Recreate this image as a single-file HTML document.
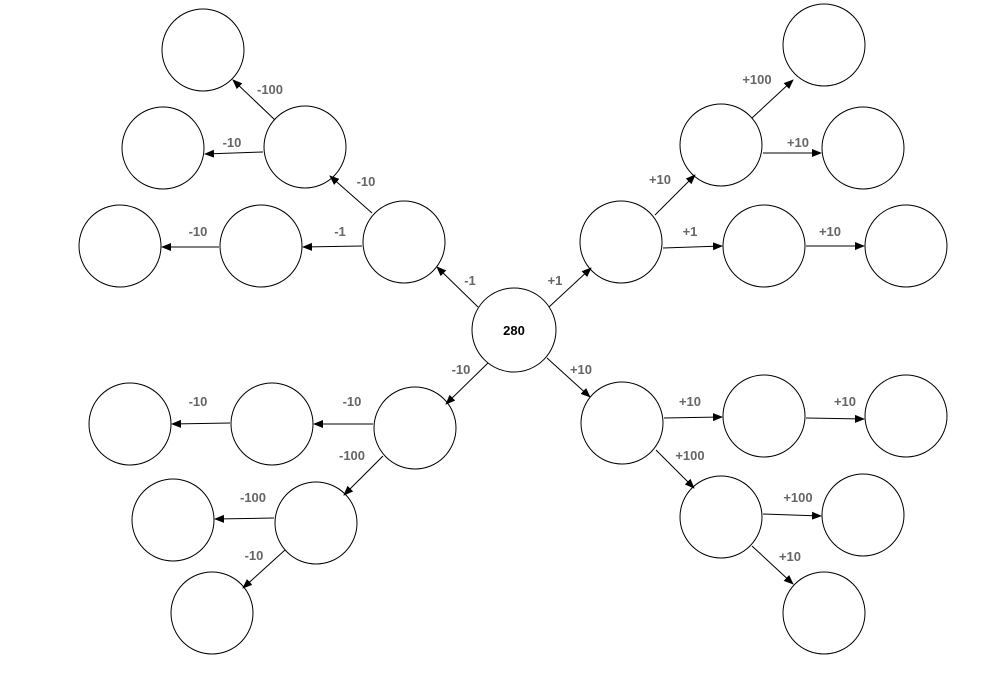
<!DOCTYPE html>
<html><head><style>body{margin:0;background:#fff}svg{display:block}</style></head><body>
<svg width="998" height="676" xmlns="http://www.w3.org/2000/svg">
<defs><marker id="a" markerWidth="10" markerHeight="8" refX="9" refY="4" orient="auto" markerUnits="userSpaceOnUse"><path d="M0,0 L10,4 L0,8 Z" fill="#000"/></marker></defs>
<g fill="#fff" stroke="#000" stroke-width="1">
<circle cx="514" cy="330" r="42"/>
<circle cx="203" cy="50" r="41"/><circle cx="163" cy="148" r="41"/><circle cx="305" cy="147" r="41"/>
<circle cx="404" cy="242" r="41"/><circle cx="261" cy="246" r="41"/><circle cx="120" cy="246" r="41"/>
<circle cx="824" cy="45" r="41"/><circle cx="721" cy="145" r="41"/><circle cx="863" cy="148" r="41"/>
<circle cx="621" cy="242" r="41"/><circle cx="764" cy="246" r="41"/><circle cx="906" cy="246" r="41"/>
<circle cx="415" cy="428" r="41"/><circle cx="272" cy="424" r="41"/><circle cx="130" cy="424" r="41"/>
<circle cx="316" cy="523" r="41"/><circle cx="173" cy="520" r="41"/><circle cx="212" cy="613" r="41"/>
<circle cx="622" cy="423" r="41"/><circle cx="764" cy="416" r="41"/><circle cx="906" cy="416" r="41"/>
<circle cx="721" cy="517" r="41"/><circle cx="863" cy="515" r="41"/><circle cx="824" cy="613" r="41"/>
</g>
<g stroke="#000" stroke-width="1" marker-end="url(#a)">
<line x1="478" y1="307" x2="437" y2="267"/>
<line x1="549" y1="307" x2="591" y2="268"/>
<line x1="488" y1="363" x2="446" y2="404"/>
<line x1="547" y1="358" x2="590" y2="397"/>
<line x1="372" y1="213" x2="330" y2="176"/>
<line x1="362" y1="246" x2="303" y2="247"/>
<line x1="219" y1="247" x2="162" y2="247"/>
<line x1="275" y1="120" x2="233" y2="80"/>
<line x1="263" y1="152" x2="205" y2="154"/>
<line x1="655" y1="215" x2="695" y2="175"/>
<line x1="663" y1="248" x2="722" y2="246"/>
<line x1="806" y1="246" x2="864" y2="246"/>
<line x1="752" y1="118" x2="793" y2="80"/>
<line x1="763" y1="153" x2="821" y2="153"/>
<line x1="373" y1="424" x2="314" y2="424"/>
<line x1="230" y1="423" x2="172" y2="424"/>
<line x1="383" y1="456" x2="344" y2="495"/>
<line x1="274" y1="518" x2="215" y2="519"/>
<line x1="285" y1="550" x2="243" y2="588"/>
<line x1="664" y1="418" x2="722" y2="417"/>
<line x1="806" y1="418" x2="864" y2="419"/>
<line x1="656" y1="450" x2="694" y2="488"/>
<line x1="763" y1="514" x2="821" y2="516"/>
<line x1="752" y1="546" x2="793" y2="584"/>
</g>
<g font-family="Liberation Sans, sans-serif" font-weight="bold" font-size="13" fill="#666" text-anchor="middle">
<text x="470" y="285">-1</text><text x="555" y="285">+1</text>
<text x="461" y="374">-10</text><text x="581" y="374">+10</text>
<text x="366" y="186">-10</text><text x="340" y="236">-1</text><text x="198" y="236">-10</text>
<text x="270" y="94">-100</text><text x="232" y="147">-10</text>
<text x="660" y="184">+10</text><text x="690" y="236">+1</text><text x="830" y="236">+10</text>
<text x="757" y="84">+100</text><text x="798" y="147">+10</text>
<text x="352" y="406">-10</text><text x="198" y="406">-10</text><text x="352" y="460">-100</text>
<text x="253" y="502">-100</text><text x="254" y="560">-10</text>
<text x="690" y="406">+10</text><text x="845" y="406">+10</text><text x="690" y="460">+100</text>
<text x="798" y="502">+100</text><text x="790" y="561">+10</text>
</g>
<text x="514" y="335" font-family="Liberation Sans, sans-serif" font-weight="bold" font-size="13" fill="#000" text-anchor="middle">280</text>
</svg>
</body></html>
